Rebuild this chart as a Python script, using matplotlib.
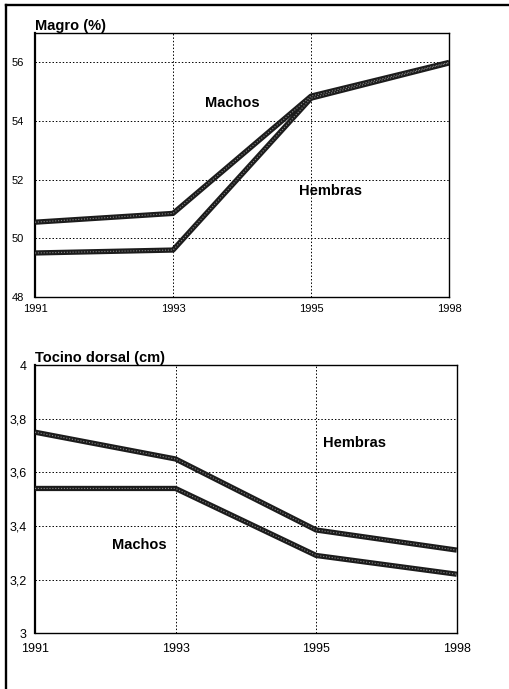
import matplotlib
matplotlib.use('Agg')
import matplotlib.pyplot as plt
from matplotlib.lines import Line2D

plt.rcParams['font.family'] = ['Liberation Sans', 'DejaVu Sans']

# categorias del eje x (equiespaciadas)
years = ['1991', '1993', '1995', '1998']

# Magro (%)
magro_machos = [50.55, 50.85, 54.85, 56.0]
magro_hembras = [49.5, 49.6, 54.78, 55.98]
magro_ticks = [48, 50, 52, 54, 56]

# Tocino dorsal (cm)
tocino_hembras = [3.75, 3.65, 3.385, 3.31]
tocino_machos = [3.54, 3.54, 3.29, 3.22]
tocino_ticks = [3, 3.2, 3.4, 3.6, 3.8, 4]
tocino_labels = ['3', '3,2', '3,4', '3,6', '3,8', '4']

fig = plt.figure(figsize=(5.1, 6.89), dpi=100)
xs = range(len(years))


def draw_line(ax, vals):
    ax.plot(xs, vals, color='#1c1c1c', lw=3.8, solid_capstyle='butt', zorder=3)
    ax.plot(xs, vals, color='#8a8a8a', lw=0.8, linestyle=(0, (1, 1.6)), zorder=4)


def style_axes(ax):
    ax.set_xlim(0, 3)
    ax.set_xticks(list(xs))
    ax.set_xticklabels(years, fontsize=8)
    ax.tick_params(length=0, pad=3, labelsize=8)
    ax.grid(True, color='black', linestyle=(0, (1.5, 2)), lw=0.7)
    for s in ax.spines.values():
        s.set_linewidth(1.0)
    ax.spines['left'].set_linewidth(1.6)


# grafico superior
ax1 = fig.add_axes([0.0686, 0.569, 0.812, 0.383])
draw_line(ax1, magro_machos)
draw_line(ax1, magro_hembras)
style_axes(ax1)
ax1.set_ylim(48, 57)
ax1.set_yticks(magro_ticks)
ax1.set_yticklabels([str(t) for t in magro_ticks])
ax1.tick_params(axis='y', pad=8)
ax1.tick_params(axis='x', pad=5)
ax1.text(1.43, 54.6, 'Machos', fontsize=10.5, fontweight='bold', ha='center', va='center')
ax1.text(2.14, 51.63, 'Hembras', fontsize=10.5, fontweight='bold', ha='center', va='center')
ax1.set_title('Magro (%)', loc='left', fontsize=10.5, fontweight='bold', pad=2)

# grafico inferior
ax2 = fig.add_axes([0.0686, 0.081, 0.827, 0.389])
draw_line(ax2, tocino_hembras)
draw_line(ax2, tocino_machos)
style_axes(ax2)
ax2.set_ylim(3, 4)
ax2.set_yticks(tocino_ticks)
ax2.set_yticklabels(tocino_labels, fontsize=9)
ax2.tick_params(axis='x', labelsize=9, pad=7)
ax2.tick_params(axis='y', pad=6)
ax2.text(2.27, 3.71, 'Hembras', fontsize=10.5, fontweight='bold', ha='center', va='center')
ax2.text(0.745, 3.33, 'Machos', fontsize=10.5, fontweight='bold', ha='center', va='center')
ax2.set_title('Tocino dorsal (cm)', loc='left', fontsize=10.5, fontweight='bold', pad=2)

# marco exterior (solo izquierda y arriba)
fig.add_artist(Line2D([0.012, 1.0], [0.993, 0.993], color='black', lw=1.7,
                      transform=fig.transFigure))
fig.add_artist(Line2D([0.012, 0.012], [0.0, 0.993], color='black', lw=1.7,
                      transform=fig.transFigure))

fig.savefig('out.png', dpi=100)
